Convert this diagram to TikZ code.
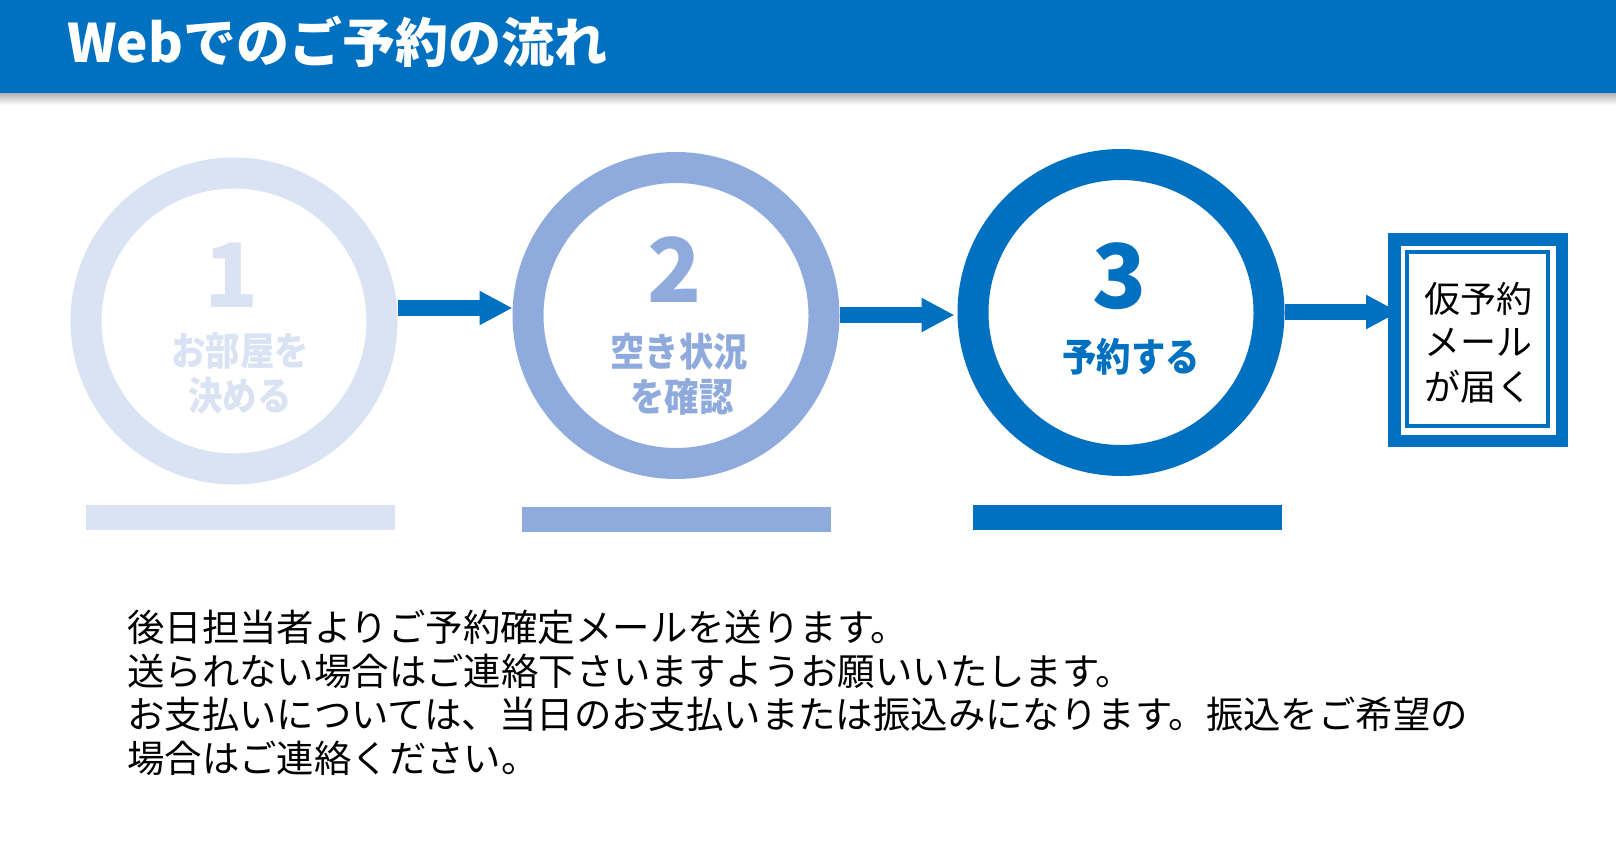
\documentclass[tikz,border=0pt]{standalone}
\usepackage{fontspec}
\setmainfont{Noto Sans CJK JP}
\usetikzlibrary{arrows.meta,backgrounds}
\definecolor{dk}{HTML}{0070C0}
\definecolor{md}{HTML}{8FAADC}
\definecolor{lt}{HTML}{DAE3F3}
\newcommand{\narrow}[1]{\scalebox{0.88}[1]{#1}}
\begin{document}
\begin{tikzpicture}[x=1pt,y=-1pt,
 ring/.style={circle,draw,line width=31pt,minimum size=296pt,inner sep=0pt},
 barbox/.style={rectangle,inner sep=0pt,minimum width=309pt,minimum height=25pt},
 arr/.style={draw=dk,line width=16pt,-{Triangle[length=33pt,width=32pt]}},
 digit/.style={anchor=base,inner sep=0pt,font=\fontsize{89}{89}\selectfont\bfseries},
 lab/.style={anchor=base,inner sep=0pt,font=\fontsize{39}{39}\selectfont\bfseries},
 body/.style={anchor=base west,inner sep=0pt,font=\fontsize{37.4}{44}\selectfont},
 boxtxt/.style={anchor=base,inner sep=0pt,font=\fontsize{36}{44}\selectfont}]
\useasboundingbox (0,0) rectangle (1616,849);
% header
\shade[top color=black!30,bottom color=white] (0,93) rectangle (1616,105);
\fill[dk] (0,0) rectangle (1616,93);
\node[anchor=base west,inner sep=0pt,text=white,font=\fontsize{53}{53}\selectfont\bfseries] (title) at (67,62) {Webでのご予約の流れ};
% circles
\node[ring,draw=lt] (c1) at (234,321) {};
\node[ring,draw=md] (c2) at (676,315.5) {};
\node[ring,draw=dk] (c3) at (1121,312.5) {};
\node[digit,text=lt] (n1) at (232,307) {1};
\node[digit,text=md] (n2) at (675,302) {2};
\node[digit,text=dk] (n3) at (1120,308) {3};
\node[lab,text=lt] (l1a) at (240,365) {\narrow{お部屋を}};
\node[lab,text=lt] (l1b) at (240,410) {\narrow{決める}};
\node[lab,text=md] (l2a) at (679,366) {\narrow{空き状況}};
\node[lab,text=md] (l2b) at (682,411) {\narrow{を確認}};
\node[lab,text=dk] (l3a) at (1131,371) {\narrow{予約する}};
% bars
\node[barbox,fill=lt] (b1) at (240.5,517.5) {};
\node[barbox,fill=md] (b2) at (676.5,519.5) {};
\node[barbox,fill=dk] (b3) at (1127,517) {};
% box
\node[draw=dk,line width=12.5pt,minimum width=167.5pt,minimum height=201.5pt,inner sep=0pt] (mail) at (1478,340) {};
\draw[dk,line width=4pt] ([shift={(19,19)}]mail.north west) rectangle ([shift={(-20,-21)}]mail.south east);
\node[boxtxt] (m1) at (1478,312) {仮予約};
\node[boxtxt] (m2) at (1478,355) {メール};
\node[boxtxt] (m3) at (1478,400) {が届く};
% arrows
\coordinate (y1) at (0,308);
\coordinate (y2) at (0,315);
\coordinate (y3) at (0,312);
\begin{pgfonlayer}{background}
\fill[white] (0,0) rectangle (1616,849);
\draw[arr] (c1.east |- y1) -- (c2.west |- y1);
\draw[arr,shorten >=3pt] (c2.east |- y2) -- (c3.west |- y2);
\draw[arr,shorten >=-11pt] (c3.east |- y3) -- (mail.west |- y3);
\end{pgfonlayer}
% body text
\node[body] (t1) at (127,641) {後日担当者よりご予約確定メールを送ります。};
\node[body] (t2) at (127,685) {送られない場合はご連絡下さいますようお願いいたします。};
\node[body] (t3) at (127,728) {お支払いについては、当日のお支払いまたは振込みになります。振込をご希望の};
\node[body] (t4) at (127,772) {場合はご連絡ください。};
\end{tikzpicture}
\end{document}
